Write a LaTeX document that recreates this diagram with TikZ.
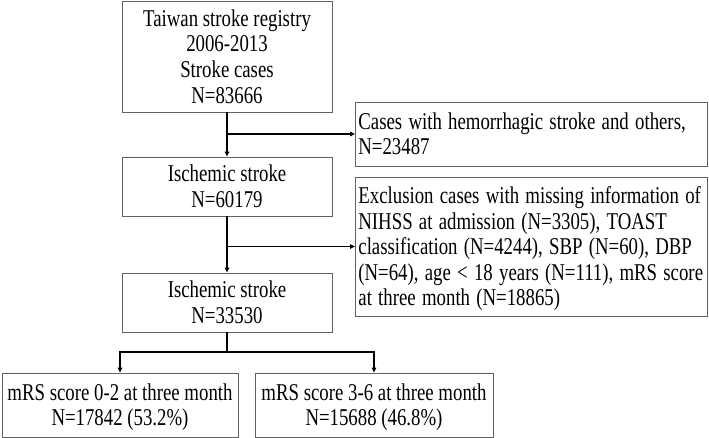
\documentclass[tikz,border=0pt]{standalone}
\usepackage{fontspec}
\usepackage{graphicx}
\setmainfont{Liberation Serif}
\newcommand\tallc[1]{\raisebox{-3pt}[\height][\depth]{\scalebox{1}[1.28]{\begin{tabular}{@{}c@{}}#1\end{tabular}}}}
\newcommand\talll[1]{\raisebox{-3pt}[\height][\depth]{\scalebox{1}[1.28]{\begin{tabular}{@{}l@{}}#1\end{tabular}}}}
\usetikzlibrary{arrows.meta}
\begin{document}
\begin{tikzpicture}[x=1pt,y=-1pt,
  box/.style={draw=black!62, line width=0.8pt, inner sep=0pt, align=center,
    font=\fontsize{18.8}{20}\selectfont},
  lbox/.style={box, align=left, inner xsep=3pt, anchor=west},
  conn/.style={draw=black, line width=1.3pt},
  arr/.style={conn, -{Triangle[length=5pt,width=4.5pt]}}]
\useasboundingbox (0,0) rectangle (709,438);
\node[box, minimum width=210pt, minimum height=111pt] (b1) at (227,56.5)
  {\tallc{Taiwan stroke registry\\2006-2013\\Stroke cases\\N=83666}};
\node[box, minimum width=210pt, minimum height=59pt] (b2) at (227,186.5)
  {\tallc{Ischemic stroke\\N=60179}};
\node[box, minimum width=210pt, minimum height=59pt] (b3) at (227,302.5)
  {\tallc{Ischemic stroke\\N=33530}};
\node[lbox, minimum width=352pt, minimum height=64pt, text width=346pt] (r1) at (355,134)
  {\talll{Cases with hemorrhagic stroke and others,\\N=23487}};
\node[lbox, minimum width=352pt, minimum height=139pt, text width=346pt] (r2) at (355,246.5)
  {\talll{Exclusion cases with missing information of\\NIHSS at admission (N=3305), TOAST\\classification (N=4244), SBP (N=60), DBP\\(N=64), age < 18 years (N=111), mRS score\\at three month (N=18865)}};
\node[box, minimum width=236pt, minimum height=64pt] (o1) at (120,405)
  {\tallc{mRS score 0-2 at three month\\N=17842 (53.2\%)}};
\node[box, minimum width=238pt, minimum height=64pt] (o2) at (374,405)
  {\tallc{mRS score 3-6 at three month\\N=15688 (46.8\%)}};
\coordinate (j1) at (b1.south |- r1.west);
\coordinate (j2) at (b2.south |- r2.west);
\coordinate (j3) at (227,352);
\draw[arr] (b1.south) -- (b2.north);
\draw[arr] (j1) -- (r1.west);
\draw[arr] (b2.south) -- (b3.north);
\draw[arr] (j2) -- (r2.west);
\draw[conn] (b3.south) -- (j3);
\draw[arr] (j3) -| (o1.north);
\draw[arr] (j3) -| (o2.north);
\end{tikzpicture}
\end{document}
